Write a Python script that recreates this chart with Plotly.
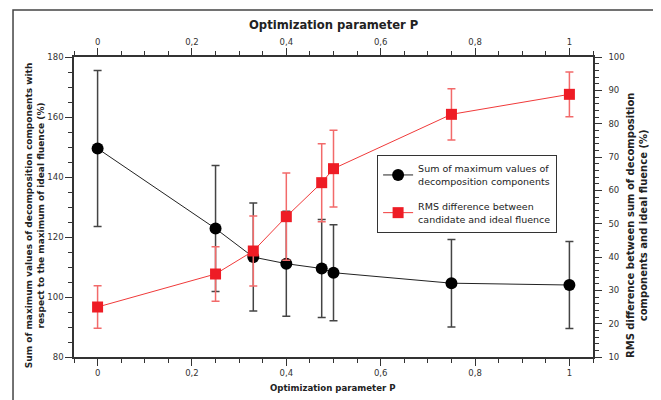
import plotly.graph_objects as go

# Data
P = [0, 0.25, 0.33, 0.4, 0.475, 0.5, 0.75, 1]
sum_max = [149.5, 122.8, 113.3, 111.1, 109.5, 108.1, 104.6, 104.0]
sum_err = [26, 21, 18, 17.5, 16.3, 16, 14.6, 14.5]
rms = [25, 34.9, 41.8, 52.1, 62.3, 66.5, 82.8, 88.8]
rms_err = [6.4, 8.2, 10.5, 13.1, 11.7, 11.5, 7.7, 6.7]

name_black = "Sum of maximum values of<br>decomposition components"
name_red = "RMS difference between<br>candidate and ideal fluence"

FONT = "DejaVu Sans"
AX = "#333333"

fig = go.Figure()
fig.add_trace(go.Scatter(
    x=P, y=sum_max, mode="lines+markers", name=name_black, legendgroup="a",
    line=dict(color="#222222", width=1),
    marker=dict(symbol="circle", size=12, color="black"),
    error_y=dict(type="data", array=sum_err, visible=True, color="#444444", thickness=1.5, width=4),
    xaxis="x", yaxis="y",
))
fig.add_trace(go.Scatter(
    x=P, y=rms, mode="lines+markers", name=name_red, legendgroup="b",
    line=dict(color="#f03a3a", width=1),
    marker=dict(symbol="square", size=11, color="#ee1c25"),
    error_y=dict(type="data", array=rms_err, visible=True, color="#f26a6a", thickness=1.5, width=4),
    xaxis="x", yaxis="y2",
))
# invisible trace to activate the top axis
fig.add_trace(go.Scatter(x=[P[0]], y=[sum_max[0]], xaxis="x2", yaxis="y", mode="markers",
                         marker=dict(opacity=0), showlegend=False, hoverinfo="skip"))

tickfont = dict(family=FONT, size=8.5, color=AX)
common_x = dict(range=[-0.05, 1.05], dtick=0.2, tick0=0, showgrid=False, zeroline=False,
                showline=True, linecolor=AX, linewidth=1.5, ticks="outside", ticklen=7,
                tickcolor=AX, tickwidth=1.2, tickfont=tickfont,
                minor=dict(dtick=0.05, tick0=0, ticks="outside", ticklen=4, tickcolor=AX, tickwidth=1))

# page body has an 8px margin, so the figure is sized to fit the remaining window
fig.update_layout(
    width=653, height=392,
    margin=dict(l=66, r=68, t=49, b=43),
    paper_bgcolor="white", plot_bgcolor="white",
    separators=", ",
    font=dict(family=FONT, color=AX),
    xaxis=dict(**common_x, side="bottom"),
    xaxis2=dict(**common_x, side="top", overlaying="x", anchor="y", matches="x"),
    yaxis=dict(range=[80, 180], dtick=20, showgrid=False, zeroline=False, showline=True,
               linecolor=AX, linewidth=1.5, ticks="outside", ticklen=7, tickcolor=AX, tickwidth=1.2,
               tickfont=tickfont,
               minor=dict(dtick=5, ticks="outside", ticklen=4, tickcolor=AX, tickwidth=1)),
    yaxis2=dict(range=[10, 100], dtick=10, showgrid=False, zeroline=False, showline=True,
                linecolor=AX, linewidth=1.5, ticks="outside", ticklen=7, tickcolor=AX, tickwidth=1.2,
                tickfont=tickfont, side="right", overlaying="y", anchor="x", ticklabelstandoff=5,
                minor=dict(dtick=2, ticks="outside", ticklen=4, tickcolor=AX, tickwidth=1)),
    legend=dict(x=0.584, y=0.673, xanchor="left", yanchor="top",
                bordercolor="#333333", borderwidth=1, bgcolor="white",
                font=dict(family=FONT, size=9.5, color="#222222"),
                tracegroupgap=10, itemwidth=30),
    showlegend=True,
)

fig.add_annotation(text="<b>Optimization parameter P</b>", xref="paper", yref="paper",
                   x=0.501, y=1.107, showarrow=False, xanchor="center", yanchor="middle",
                   font=dict(family=FONT, size=11.6, color="#222222"))
fig.add_annotation(text="<b>Optimization parameter P</b>", xref="paper", yref="paper",
                   x=0.499, y=-0.103, showarrow=False, xanchor="center", yanchor="middle",
                   font=dict(family=FONT, size=8.6, color="#222222"))
fig.add_annotation(text="<b>Sum of maximum values of decomposition components with<br>respect to the maximum of ideal fluence (%)</b>",
                   xref="paper", yref="paper", x=-0.075, y=0.473, textangle=-90, showarrow=False,
                   xanchor="center", yanchor="middle", font=dict(family=FONT, size=9, color="#222222"))
fig.add_annotation(text="<b>RMS difference between sum of decomposition<br>components and ideal fluence (%)</b>",
                   xref="paper", yref="paper", x=1.085, y=0.437, textangle=-90, showarrow=False,
                   xanchor="center", yanchor="middle", font=dict(family=FONT, size=10, color="#222222"))

# outer frame
fig.add_shape(type="rect", xref="paper", yref="paper", x0=-0.1175, x1=1.1233, y0=-0.2, y1=1.1567,
              line=dict(color="#444444", width=1.5), fillcolor="rgba(0,0,0,0)", layer="below")

fig.write_html("out.html")
